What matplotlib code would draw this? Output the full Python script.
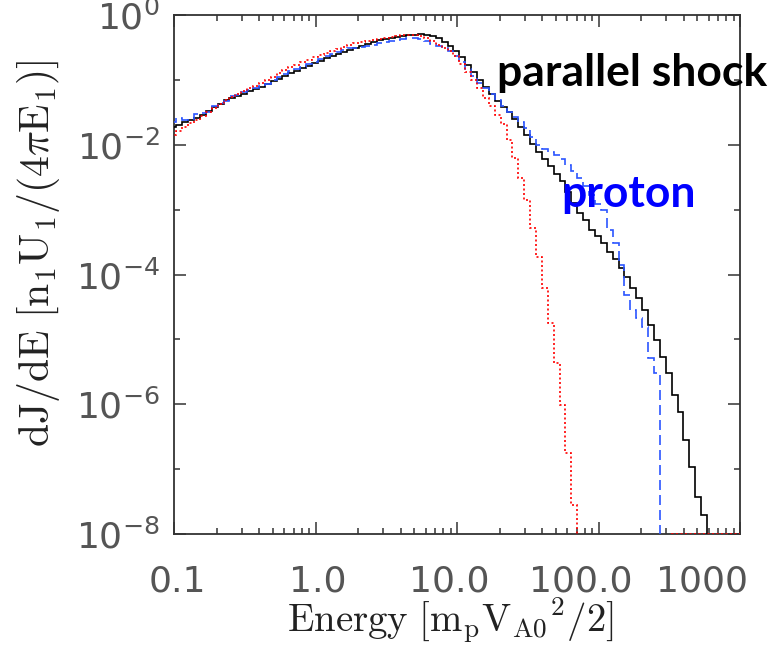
import numpy as np
import matplotlib.pyplot as plt
from matplotlib.ticker import FixedLocator, NullFormatter, FixedFormatter
from matplotlib.transforms import ScaledTranslation

plt.rcParams['mathtext.fontset'] = 'cm'

# energy bins: 24 per decade
edges = 10 ** (-1 + (np.arange(98) - 0.6) / 24)

# dJ/dE per bin, parallel shock, protons
flux_black = [0.0188, 0.0201, 0.0224, 0.0241, 0.0258, 0.0287, 0.0331, 0.0382, 0.0425, 0.0490,
              0.0526, 0.0564, 0.0606, 0.0674, 0.0723, 0.0777, 0.0864, 0.0961, 0.103, 0.115,
              0.128, 0.137, 0.152, 0.164, 0.182, 0.195, 0.217, 0.233, 0.251, 0.269,
              0.289, 0.310, 0.333, 0.357, 0.384, 0.412, 0.427, 0.442, 0.458, 0.475,
              0.492, 0.492, 0.509, 0.492, 0.475, 0.442, 0.384, 0.333, 0.279, 0.225,
              0.170, 0.132, 0.0996, 0.0777, 0.0606, 0.0472, 0.0382, 0.0320, 0.0249, 0.0188,
              0.0141, 0.0103, 0.00773, 0.00603, 0.00470, 0.00354, 0.00276, 0.00187, 0.00127, 8.87e-4,
              6.92e-4, 4.85e-4, 3.92e-4, 3.06e-4, 2.22e-4, 1.73e-4, 1.26e-4, 9.15e-5, 6.19e-5, 4.34e-5,
              2.84e-5, 1.67e-5, 9.78e-6, 5.35e-6, 3.03e-6, 1.39e-6, 7.60e-7, 2.81e-7, 1.08e-7, 3.72e-8,
              1.96e-8, 0, 0, 0, 0, 0, 0]
flux_blue = [0.0224, 0.0258, 0.0241, 0.0249, 0.0298, 0.0309, 0.0320, 0.0396, 0.0440, 0.0472,
             0.0564, 0.0585, 0.0650, 0.0698, 0.0749, 0.0804, 0.0864, 0.0996, 0.111, 0.123,
             0.137, 0.147, 0.158, 0.176, 0.189, 0.210, 0.233, 0.251, 0.269, 0.289,
             0.310, 0.310, 0.321, 0.333, 0.345, 0.370, 0.384, 0.397, 0.412, 0.427,
             0.442, 0.442, 0.427, 0.397, 0.357, 0.333, 0.310, 0.279, 0.233, 0.189,
             0.147, 0.115, 0.0895, 0.0749, 0.0606, 0.0490, 0.0396, 0.0320, 0.0268, 0.0224,
             0.0181, 0.0132, 0.00991, 0.00860, 0.00773, 0.00695, 0.00603, 0.00487, 0.00394, 0.00307,
             0.00231, 0.00168, 0.00122, 9.87e-4, 4.85e-4, 3.06e-4, 1.40e-4, 4.83e-5, 2.84e-5, 2.14e-5,
             1.55e-5, 5.16e-6, 3.03e-6, 0, 0, 0, 0, 0, 0, 0,
             0, 0, 0, 0, 0, 0, 0]
flux_red = [0.0141, 0.0163, 0.0188, 0.0216, 0.0241, 0.0277, 0.0320, 0.0369, 0.0425, 0.0490,
            0.0545, 0.0606, 0.0674, 0.0749, 0.0804, 0.0895, 0.0996, 0.111, 0.128, 0.142,
            0.158, 0.170, 0.189, 0.202, 0.225, 0.242, 0.260, 0.279, 0.299, 0.321,
            0.345, 0.370, 0.384, 0.397, 0.412, 0.427, 0.442, 0.458, 0.475, 0.492,
            0.492, 0.492, 0.475, 0.442, 0.397, 0.345, 0.310, 0.279, 0.233, 0.176,
            0.132, 0.0996, 0.0749, 0.0526, 0.0396, 0.0287, 0.0209, 0.0118, 0.00625, 0.00307,
            0.00141, 5.21e-4, 1.86e-4, 6.19e-5, 1.79e-5, 4.32e-6, 9.74e-7, 1.77e-7, 2.80e-8, 0,
            0, 0, 0, 0, 0, 0, 0, 0, 0, 0,
            0, 0, 0, 0, 0, 1e-8, 1e-8, 1e-8, 1e-8, 1e-8,
            1e-8, 1e-8, 1e-8, 1e-8, 1e-8, 1e-8, 1e-8]

xticks = [0.1, 1.0, 10.0, 100.0, 1000.0]
xticklabels = ['0.1', '1.0', '10.0', '100.0', '1000']
yticks = [1e0, 1e-2, 1e-4, 1e-6, 1e-8]
yticklabels = [r'$\mathregular{10^{0}}$', r'$\mathregular{10^{-2}}$', r'$\mathregular{10^{-4}}$',
               r'$\mathregular{10^{-6}}$', r'$\mathregular{10^{-8}}$']


def floor0(v):
    v = np.array(v, dtype=float)
    return np.where(v > 0, v, 1e-12)


fig = plt.figure(figsize=(7.74, 6.46), dpi=100)
ax = fig.add_axes([174 / 774, 1 - 534 / 646, 566 / 774, 519 / 646])

ax.stairs(floor0(flux_black), edges, baseline=None, color='black', lw=1.2, zorder=3)
ax.stairs(floor0(flux_blue), edges, baseline=None, color='#2b55ff', lw=1.2,
          linestyle=(0, (6, 3)), zorder=3)
ax.stairs(floor0(flux_red), edges, baseline=None, color='red', lw=1.2,
          linestyle=(0, (1.2, 1.5)), zorder=3)

ax.set_xscale('log')
ax.set_yscale('log')
ax.set_xlim(0.1, 1000)
ax.set_ylim(1e-8, 1)

ax.xaxis.set_major_locator(FixedLocator(xticks))
ax.xaxis.set_major_formatter(FixedFormatter(xticklabels))
ax.xaxis.set_minor_locator(FixedLocator([m * 10.0 ** d for d in range(-1, 3) for m in range(2, 10)]))
ax.xaxis.set_minor_formatter(NullFormatter())
ax.yaxis.set_major_locator(FixedLocator(yticks))
ax.yaxis.set_major_formatter(FixedFormatter(yticklabels))
ax.yaxis.set_minor_locator(FixedLocator([1e-1, 1e-3, 1e-5, 1e-7]))
ax.yaxis.set_minor_formatter(NullFormatter())

ax.tick_params(which='both', direction='in', top=True, right=True, color='#333333', width=1.1)
ax.tick_params(which='major', length=8.6)
ax.tick_params(which='minor', length=4.3)
ax.tick_params(axis='x', which='major', pad=22, labelsize=26, labelcolor='#555555',
               labelfontfamily='DejaVu Sans')
ax.tick_params(axis='y', which='major', pad=10, labelsize=26, labelcolor='#555555',
               labelfontfamily='DejaVu Sans')
for lab in ax.get_yticklabels():
    lab.set_math_fontfamily('dejavusans')
for s in ax.spines.values():
    s.set_linewidth(1.3)
    s.set_color('#333333')

# nudge the right-hand labels left so the last one stays inside the figure
shifts = [0.03, 0.02, -0.08, -0.18, -0.38]
for lab, dx in zip(ax.get_xticklabels(), shifts):
    lab.set_transform(lab.get_transform() + ScaledTranslation(dx, 0, fig.dpi_scale_trans))

ax.set_xlabel(r'$\mathrm{Energy\ [m_pV_{A0}{}^2/2]}$', fontsize=28, color='#222222')
ax.xaxis.set_label_coords(0.488, -0.118)
ax.set_ylabel(r'$\mathrm{dJ/dE\ [n_1U_1/(4\pi E_1)]}$', fontsize=30, color='#222222')
ax.yaxis.set_label_coords(-0.198, 0.54)

fig.text(497 / 774, 1 - 86 / 646, 'parallel shock', family='Lato', weight='bold',
         fontsize=32, color='black')
fig.text(561 / 774, 1 - 207 / 646, 'proton', family='Lato', weight='bold',
         fontsize=32, color='#0000ff')

fig.savefig('out.png', dpi=100)
